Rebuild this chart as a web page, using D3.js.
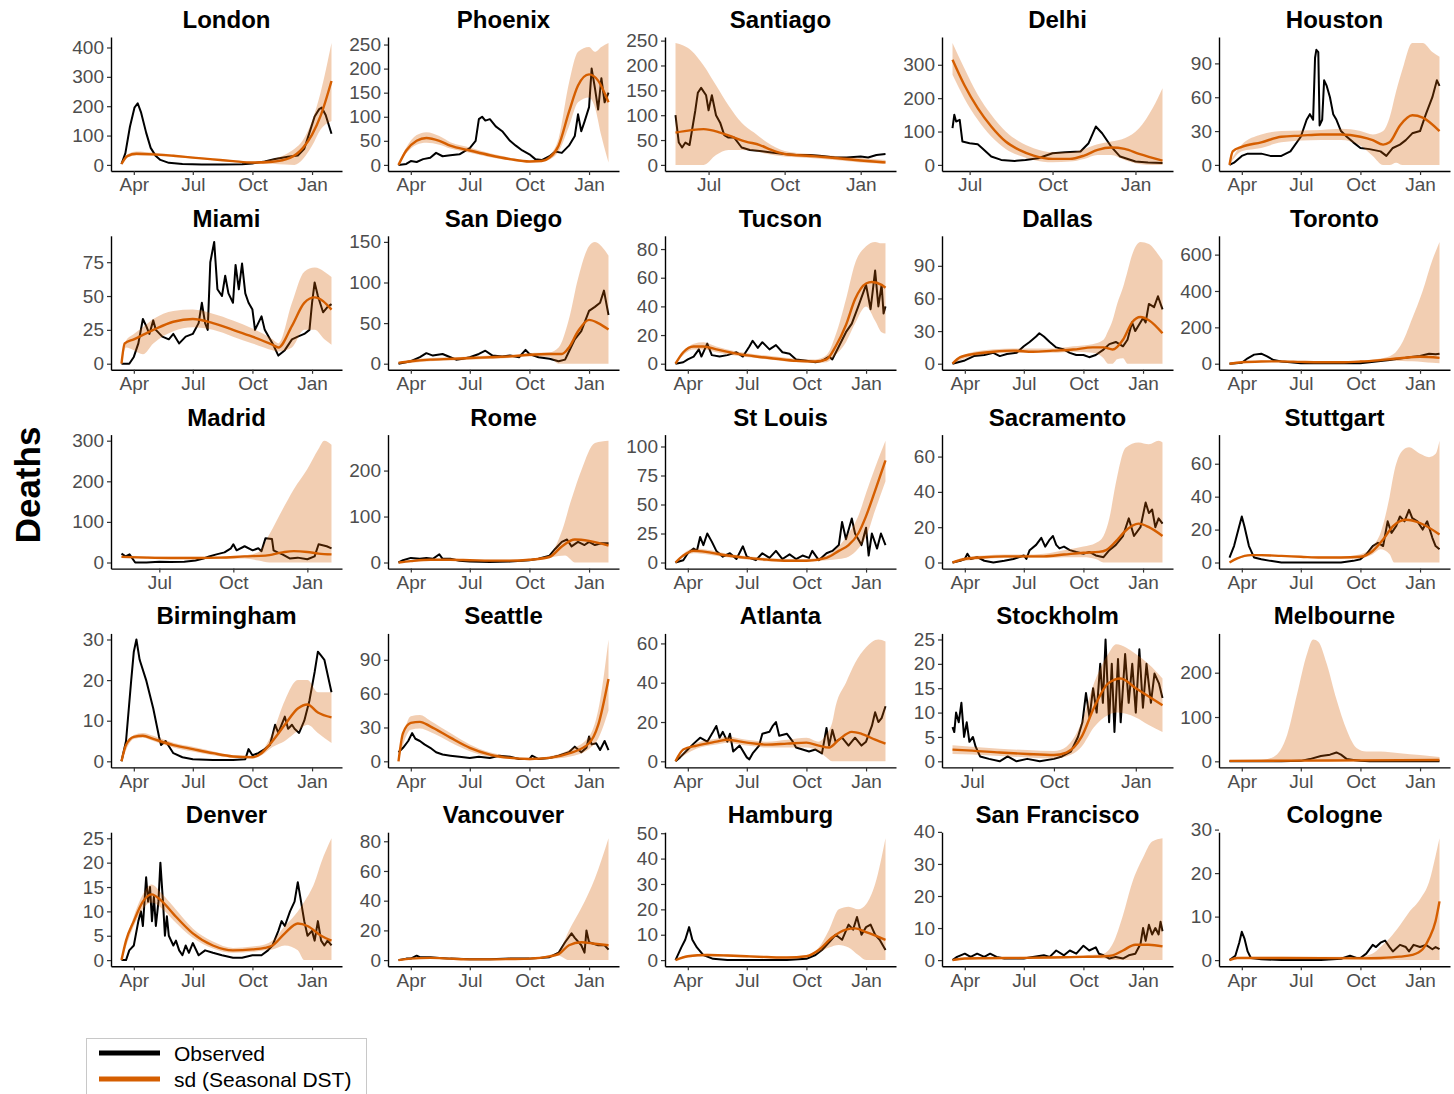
<!DOCTYPE html>
<html>
<head>
<meta charset="utf-8">
<script src="https://cdn.jsdelivr.net/npm/d3@7"></script>
<style>
  body { margin: 0; background: #fff; }
  text { font-family: "Liberation Sans", Arial, sans-serif; }
</style>
</head>
<body>
<svg id="chart" width="1454" height="1094"></svg>
<script>
// daily deaths, observed vs seasonal DST fit
// dates are "MM-DD": Jan/Feb belong to 2021, the rest to 2020

const cities = ["London", "Phoenix", "Santiago", "Delhi", "Houston",
  "Miami", "San Diego", "Tucson", "Dallas", "Toronto",
  "Madrid", "Rome", "St Louis", "Sacramento", "Stuttgart",
  "Birmingham", "Seattle", "Atlanta", "Stockholm", "Melbourne",
  "Denver", "Vancouver", "Hamburg", "San Francisco", "Cologne"];

const starts = ["03-13", "03-13", "05-22", "06-12", "03-13",
  "03-13", "03-13", "03-13", "03-13", "03-13",
  "05-15", "03-13", "03-13", "03-13", "03-13",
  "03-13", "03-13", "03-13", "06-09", "03-13",
  "03-13", "03-13", "03-13", "03-13", "03-13"];

const yTicks = [
  [0, 100, 200, 300, 400], [0, 50, 100, 150, 200, 250], [0, 50, 100, 150, 200, 250], [0, 100, 200, 300], [0, 30, 60, 90],
  [0, 25, 50, 75], [0, 50, 100, 150], [0, 20, 40, 60, 80], [0, 30, 60, 90], [0, 200, 400, 600],
  [0, 100, 200, 300], [0, 100, 200], [0, 25, 50, 75, 100], [0, 20, 40, 60], [0, 20, 40, 60],
  [0, 10, 20, 30], [0, 30, 60, 90], [0, 20, 40, 60], [0, 5, 10, 15, 20, 25], [0, 100, 200],
  [0, 5, 10, 15, 20, 25], [0, 20, 40, 60, 80], [0, 10, 20, 30, 40, 50], [0, 10, 20, 30, 40], [0, 10, 20, 30]
];

// ---- row 1 ----
const londonObs = [["03-13",3],["03-19",40],["03-26",130],["04-02",195],["04-07",210],["04-12",180],["04-20",110],["04-27",58],["05-05",30],["05-12",17],["05-25",7],["06-15",3],["07-15",1],["08-15",1],["09-15",2],["10-01",5],["10-20",12],["11-05",20],["11-25",28],["12-10",32],["12-20",55],["12-28",110],["01-05",165],["01-12",190],["01-16",195],["01-22",170],["01-31",106]];
const londonFit = [["03-13",3],["03-22",30],["04-05",38],["05-01",36],["06-01",31],["07-01",25],["08-01",19],["09-01",13],["10-01",8],["11-01",11],["11-28",24],["12-18",58],["01-01",103],["01-14",166],["01-31",286]];
const londonBand = [["03-13",0,6],["03-22",25,36],["04-05",32,46],["05-01",31,42],["06-01",27,35],["07-01",22,28],["08-01",16,22],["09-01",10,16],["10-01",5,11],["11-01",4,20],["11-20",1,35],["12-05",0,55],["12-18",20,85],["01-01",65,150],["01-14",120,245],["01-31",150,415]];

const phoenixObs = [["03-13",0],["03-25",2],["04-01",8],["04-10",6],["04-20",12],["05-01",15],["05-10",25],["05-20",18],["06-01",20],["06-15",22],["07-01",35],["07-10",50],["07-15",95],["07-20",100],["07-25",92],["08-01",95],["08-10",80],["08-20",70],["09-01",50],["09-10",40],["09-20",30],["10-01",22],["10-10",12],["10-20",10],["11-01",18],["11-10",28],["11-20",25],["12-01",40],["12-10",60],["12-15",105],["12-20",70],["12-25",90],["01-01",120],["01-05",200],["01-10",160],["01-15",115],["01-20",180],["01-25",130],["01-31",150]];
const phoenixFit = [["03-13",0],["03-25",30],["04-10",50],["04-25",56],["05-15",50],["06-01",40],["07-01",30],["08-01",20],["09-01",12],["10-01",7],["10-20",8],["11-01",15],["11-15",40],["12-01",110],["12-15",165],["01-01",188],["01-15",175],["01-31",130]];
const phoenixBand = [["03-13",0,2],["03-25",24,36],["04-10",42,62],["04-25",46,68],["05-15",42,60],["06-01",34,47],["07-01",25,36],["08-01",16,24],["09-01",9,15],["10-01",5,9],["10-20",6,11],["11-01",11,20],["11-15",28,55],["12-01",80,170],["12-15",130,235],["01-01",140,245],["01-10",120,235],["01-20",60,245],["01-31",5,253]];

const santiagoObs = [["05-22",100],["05-26",45],["05-30",35],["06-03",45],["06-08",40],["06-15",110],["06-18",145],["06-22",155],["06-28",140],["07-01",110],["07-05",140],["07-10",100],["07-15",85],["07-20",60],["07-25",55],["08-01",55],["08-10",35],["08-20",30],["09-01",28],["09-15",25],["10-01",22],["10-15",20],["11-01",20],["11-15",18],["12-01",15],["12-15",15],["01-01",17],["01-10",15],["01-20",20],["01-31",22]];
const santiagoFit = [["05-22",65],["06-10",70],["06-25",72],["07-15",65],["08-01",55],["08-15",47],["09-01",40],["09-15",30],["10-01",22],["11-01",18],["12-01",14],["01-01",9],["01-31",5]];
const santiagoBand = [["05-22",0,245],["06-10",0,230],["06-25",0,200],["07-10",20,160],["07-25",30,120],["08-10",30,85],["08-25",28,65],["09-10",22,45],["10-01",17,28],["11-01",14,22],["12-01",10,18],["01-01",5,14],["01-31",2,10]];

const delhiObs = [["06-12",110],["06-14",150],["06-16",130],["06-20",135],["06-23",70],["07-01",65],["07-10",62],["07-15",50],["07-25",25],["08-05",15],["08-20",12],["09-01",15],["09-15",20],["10-01",35],["10-15",38],["11-01",40],["11-10",65],["11-18",115],["11-25",95],["12-05",55],["12-15",25],["01-01",10],["01-15",7],["01-31",6]];
const delhiFit = [["06-12",315],["06-25",240],["07-10",170],["07-25",115],["08-10",70],["08-25",45],["09-10",28],["10-01",18],["10-20",18],["11-05",28],["11-20",45],["12-05",52],["12-20",48],["01-05",33],["01-31",13]];
const delhiBand = [["06-12",270,365],["06-25",200,290],["07-10",135,210],["07-25",85,150],["08-10",48,100],["08-25",28,70],["09-10",15,50],["10-01",8,38],["10-20",10,38],["11-05",18,48],["11-20",30,62],["12-05",30,70],["12-20",15,80],["01-05",3,110],["01-20",0,170],["01-31",0,230]];

const houstonObs = [["03-13",0],["03-20",2],["04-01",8],["04-10",10],["05-01",10],["05-15",8],["06-01",8],["06-15",12],["07-01",25],["07-10",40],["07-15",45],["07-20",40],["07-23",95],["07-25",102],["07-28",100],["07-30",35],["08-03",40],["08-06",75],["08-10",70],["08-15",60],["08-20",45],["08-25",40],["09-01",30],["09-10",25],["09-20",20],["10-01",15],["10-15",14],["11-01",12],["11-10",8],["11-20",15],["12-01",18],["12-10",22],["12-20",28],["01-01",30],["01-10",45],["01-20",60],["01-27",75],["01-31",70]];
const houstonFit = [["03-13",0],["03-18",12],["04-01",16],["05-01",20],["06-01",25],["07-01",26],["08-01",27],["09-01",27],["10-01",25],["10-20",22],["11-05",18],["11-15",20],["12-01",35],["12-20",44],["01-05",42],["01-31",30]];
const houstonBand = [["03-13",0,2],["04-01",12,18],["05-01",15,27],["06-01",20,30],["08-01",22,31],["09-01",22,32],["10-01",17,30],["10-20",8,27],["11-05",0,30],["11-15",0,42],["11-25",2,65],["12-05",0,85],["12-20",0,108],["01-05",0,108],["01-20",0,100],["01-31",0,96]];

// ---- row 2 ----
const miamiObs = [["03-13",0],["03-25",0],["04-01",5],["04-08",15],["04-15",33],["04-20",28],["04-25",22],["05-01",32],["05-05",25],["05-15",20],["05-25",18],["06-01",22],["06-10",15],["06-20",20],["07-01",22],["07-10",30],["07-15",45],["07-20",30],["07-24",25],["07-28",75],["08-03",90],["08-08",55],["08-15",50],["08-20",65],["08-25",52],["09-01",45],["09-05",73],["09-10",55],["09-15",74],["09-20",52],["09-25",45],["10-01",40],["10-05",25],["10-10",30],["10-15",35],["10-20",25],["11-01",15],["11-10",6],["11-20",10],["12-01",18],["12-10",20],["12-20",22],["12-28",25],["01-01",45],["01-05",60],["01-10",50],["01-18",38],["01-25",42],["01-31",44]];
const miamiFit = [["03-13",0],["03-18",15],["04-01",18],["05-01",25],["06-01",31],["07-01",33],["08-01",30],["09-01",25],["10-01",20],["11-01",14],["11-10",12],["12-01",28],["12-20",45],["01-05",49],["01-31",40]];
const miamiBand = [["03-13",0,0],["03-20",12,17],["04-01",10,22],["04-15",7,27],["05-01",15,33],["06-01",24,39],["07-01",27,40],["08-01",25,37],["09-01",20,32],["10-01",15,26],["11-01",10,18],["11-10",9,15],["12-01",12,45],["12-20",25,68],["01-05",25,71],["01-20",18,68],["01-31",14,64]];

const sanDiegoObs = [["03-13",0],["04-01",3],["04-15",8],["04-25",13],["05-05",10],["05-20",12],["06-01",8],["06-10",5],["06-20",6],["07-01",8],["07-15",12],["07-25",16],["08-05",10],["08-20",9],["09-01",10],["09-15",8],["09-25",17],["10-01",12],["10-15",8],["11-01",6],["11-15",3],["11-25",5],["12-01",15],["12-10",30],["12-20",40],["01-01",65],["01-10",70],["01-18",75],["01-24",90],["01-31",60]];
const sanDiegoFit = [["03-13",1],["04-01",3],["05-01",5],["06-01",6],["07-01",7],["08-01",8],["09-01",9],["10-01",11],["11-01",12],["11-20",12],["12-01",20],["12-15",40],["01-01",54],["01-15",50],["01-31",42]];
const sanDiegoBand = [["03-13",0,2],["04-01",1,5],["05-01",3,7],["06-01",4,8],["07-01",5,9],["08-01",6,10],["09-01",7,11],["10-01",9,13],["11-01",8,14],["11-15",0,20],["12-01",0,55],["12-15",0,105],["01-01",0,145],["01-10",0,150],["01-25",0,140],["01-31",0,133]];

const tucsonObs = [["03-13",0],["03-25",1],["04-01",3],["04-10",5],["04-18",10],["04-22",5],["05-01",14],["05-08",6],["05-20",5],["06-01",6],["06-15",8],["06-25",5],["07-05",12],["07-10",16],["07-18",11],["07-25",15],["08-05",10],["08-15",13],["08-25",8],["09-05",7],["09-15",3],["10-01",2],["10-15",1],["10-25",2],["11-05",5],["11-10",3],["11-20",12],["12-01",22],["12-10",28],["12-20",40],["01-01",55],["01-08",38],["01-15",65],["01-20",40],["01-25",55],["01-28",35],["01-31",40]];
const tucsonFit = [["03-13",0],["03-25",8],["04-10",12],["04-25",12],["05-15",10],["06-15",7],["07-15",5],["08-15",3.5],["09-15",2],["10-15",1.5],["11-01",3],["11-15",12],["12-01",27],["12-15",45],["01-01",56],["01-10",57],["01-25",55],["01-31",53]];
const tucsonBand = [["03-13",0,0],["04-10",10,14],["04-25",10,15],["05-15",8,12],["06-15",5.5,8.5],["07-15",4,6.5],["08-15",2.5,5],["09-15",1,3.5],["10-15",0.5,3],["11-01",1,6],["11-15",6,20],["12-01",15,45],["12-15",28,70],["01-01",40,82],["01-15",30,85],["01-25",22,84],["01-31",21,84]];

const dallasObs = [["03-13",0],["04-01",3],["04-15",7],["05-01",8],["05-15",10],["05-25",7],["06-05",9],["06-20",10],["07-01",16],["07-10",20],["07-20",25],["07-25",28],["08-01",25],["08-10",20],["08-20",15],["09-01",13],["09-10",10],["09-20",8],["10-01",8],["10-10",6],["10-20",8],["11-01",13],["11-10",18],["11-20",20],["12-01",16],["12-08",22],["12-15",38],["12-20",30],["01-01",42],["01-05",38],["01-10",55],["01-18",52],["01-24",62],["01-31",50]];
const dallasFit = [["03-13",0],["03-25",6],["04-15",9],["05-15",11],["06-15",12],["07-15",11],["08-15",12],["09-15",13],["10-15",15],["11-01",15],["11-15",13],["12-01",22],["12-15",38],["12-28",43],["01-10",40],["01-31",28]];
const dallasBand = [["03-13",0,0],["04-15",7,11],["06-15",10,14],["08-15",10,14],["09-15",11,16],["10-15",10,18],["11-01",5,22],["11-08",0,30],["11-15",0,40],["11-22",4,55],["12-01",5,70],["12-08",0,85],["12-15",0,100],["12-28",0,112],["01-10",0,110],["01-25",0,100],["01-31",0,95]];

const torontoObs = [["03-13",0],["04-01",5],["04-10",30],["04-20",50],["05-01",55],["05-10",40],["05-20",20],["06-01",12],["06-15",8],["07-01",3],["08-01",2],["09-01",2],["10-01",3],["10-15",8],["11-01",15],["11-15",20],["12-01",28],["12-15",35],["01-01",42],["01-15",55],["01-25",52],["01-31",55]];
const torontoFit = [["03-13",0],["04-01",8],["05-01",12],["06-01",13],["07-01",10],["08-01",8],["09-01",8],["10-01",12],["11-01",20],["12-01",30],["01-01",38],["01-31",32]];
const torontoBand = [["03-13",0,0],["04-01",5,12],["05-01",9,16],["07-01",7,13],["09-01",6,11],["10-01",9,17],["11-01",13,28],["11-20",15,50],["12-05",15,120],["12-20",13,250],["01-05",10,400],["01-20",5,570],["01-31",3,670]];

// ---- row 3 ----
const madridObs = [["05-15",22],["05-20",15],["05-25",20],["06-01",0],["06-15",0],["07-01",2],["07-15",1],["08-01",2],["08-15",5],["08-25",10],["09-01",15],["09-10",20],["09-20",25],["09-28",35],["10-01",45],["10-05",30],["10-15",40],["10-25",30],["11-01",35],["11-05",28],["11-10",60],["11-18",58],["11-20",30],["11-25",25],["12-01",20],["12-10",10],["12-20",12],["01-01",8],["01-10",15],["01-15",45],["01-25",40],["01-31",35]];
const madridFit = [["05-15",14],["06-15",12],["07-15",11],["08-15",11],["09-15",12],["10-15",15],["11-10",17],["12-01",25],["12-15",28],["01-01",26],["01-15",22],["01-31",20]];
const madridBand = [["05-15",11,17],["07-15",9,14],["08-15",8,14],["09-15",9,15],["10-15",10,18],["11-01",5,25],["11-15",0,70],["12-01",0,130],["12-15",0,180],["01-01",0,230],["01-15",0,280],["01-22",0,300],["01-31",0,290]];

const romeObs = [["03-13",0],["03-20",5],["04-01",10],["04-15",8],["04-25",10],["05-05",8],["05-15",18],["05-20",8],["06-01",8],["06-15",4],["07-01",2],["08-01",1],["09-01",2],["10-01",5],["10-15",8],["11-01",15],["11-10",30],["11-20",45],["11-28",50],["12-05",35],["12-15",45],["12-25",38],["01-01",45],["01-10",38],["01-20",42],["01-31",42]];
const romeFit = [["03-13",0],["04-01",3],["05-01",6],["06-01",6],["07-01",5],["08-01",4],["09-01",4],["10-01",6],["11-01",12],["11-20",35],["12-10",50],["01-01",47],["01-31",37]];
const romeBand = [["03-13",0,1],["04-01",1.5,5],["05-01",4.5,8],["06-01",4.5,8],["07-01",3.5,7],["08-01",2.5,6],["09-01",2.5,6],["10-01",4.5,8],["11-01",10,16],["11-15",14,50],["11-25",15,90],["12-01",10,120],["12-10",0,160],["12-20",0,200],["01-10",0,260],["01-31",0,265]];

const stLouisObs = [["03-13",0],["03-25",2],["04-01",8],["04-10",12],["04-15",10],["04-20",22],["04-25",15],["05-01",25],["05-08",18],["05-15",10],["05-25",5],["06-05",8],["06-15",3],["06-25",14],["07-01",5],["07-15",2],["07-25",8],["08-05",4],["08-15",10],["08-25",3],["09-05",7],["09-15",3],["09-25",6],["10-05",4],["10-10",10],["10-20",2],["11-01",8],["11-10",10],["11-20",15],["11-25",35],["12-01",20],["12-10",38],["12-15",25],["12-25",15],["01-01",30],["01-05",6],["01-10",25],["01-18",12],["01-24",25],["01-31",15]];
const stLouisFit = [["03-13",0],["03-25",6],["04-10",10],["05-01",9],["06-01",6],["07-01",4],["08-01",2.5],["09-01",1.5],["10-01",1.5],["11-01",4],["11-20",10],["12-05",15],["12-20",25],["01-01",40],["01-15",62],["01-31",88]];
const stLouisBand = [["03-13",0,0],["04-10",8,12],["05-01",7,11],["06-01",4.5,7.5],["07-01",2.5,5.5],["08-01",1,4],["09-01",0.5,3],["10-01",0.5,3],["11-01",2,6],["11-20",3,14],["12-05",5,25],["12-20",12,40],["01-01",22,60],["01-15",45,82],["01-31",70,105]];

const sacramentoObs = [["03-13",0],["03-25",1],["04-01",2],["04-05",5],["04-10",2],["04-20",3],["05-01",1],["05-15",0],["06-01",1],["06-15",2],["07-01",4],["07-05",2],["07-10",7],["07-20",10],["07-28",14],["08-03",9],["08-10",13],["08-15",15],["08-20",10],["08-25",8],["09-01",9],["09-10",7],["09-20",6],["10-01",5],["10-10",6],["10-20",4],["11-01",3],["11-10",7],["11-20",10],["12-01",15],["12-10",25],["12-18",15],["12-28",20],["01-05",34],["01-10",28],["01-15",30],["01-20",20],["01-25",25],["01-31",22]];
const sacramentoFit = [["03-13",0],["04-01",2],["05-01",3],["06-01",3.5],["07-01",3.5],["08-01",3.5],["09-01",4.5],["10-01",5.5],["10-25",6],["11-05",7],["11-20",12],["12-05",18],["12-25",22],["01-10",20],["01-31",15]];
const sacramentoBand = [["03-13",0,0.5],["04-01",1,3],["05-01",2,4],["06-01",2.5,4.5],["07-01",2.5,4.5],["08-01",2.5,5],["09-01",3,7],["10-01",3,9],["10-20",2,11],["11-01",0,15],["11-10",0,25],["11-20",0,45],["12-05",0,65],["12-25",0,68],["01-10",0,67],["01-25",0,69],["01-31",0,68]];

const stuttgartObs = [["03-13",3],["03-20",10],["03-28",22],["04-01",28],["04-05",22],["04-12",10],["04-20",3],["05-01",2],["05-15",1],["06-01",0],["07-01",0],["08-01",0],["09-01",0],["09-20",1],["10-01",2],["10-10",5],["10-20",10],["10-28",12],["11-05",10],["11-12",25],["11-18",18],["11-25",22],["12-01",28],["12-08",25],["12-15",32],["12-20",27],["12-28",25],["01-05",20],["01-12",25],["01-20",15],["01-25",10],["01-31",8]];
const stuttgartFit = [["03-13",0],["03-25",2.5],["04-15",4.5],["05-01",4.5],["06-01",4],["07-01",3.5],["08-01",3],["09-01",3],["10-01",3.5],["10-20",7],["11-05",14],["11-20",22],["12-10",26],["01-01",24],["01-31",17]];
const stuttgartBand = [["03-13",0,0.5],["04-15",4,5],["07-01",3,4],["09-01",2.5,3.5],["10-01",2.5,5],["10-20",5,10],["11-01",8,18],["11-15",5,40],["11-22",0,55],["12-05",0,68],["12-15",0,70],["01-01",0,66],["01-15",0,64],["01-25",0,66],["01-31",0,74]];

// ---- row 4 ----
const birminghamObs = [["03-13",0],["03-20",5],["03-28",20],["04-01",27],["04-05",30],["04-10",25],["04-20",20],["05-01",13],["05-10",6],["05-13",4],["05-20",5],["06-01",2],["06-15",1],["07-01",0.5],["08-01",0.3],["09-01",0.3],["09-20",0.5],["09-25",3],["10-01",1.5],["10-10",2],["10-20",3],["10-28",4],["11-05",9],["11-10",7],["11-20",11],["11-25",8],["12-01",9],["12-05",8],["12-12",7],["12-20",10],["12-28",15],["01-05",22],["01-10",27],["01-15",26],["01-20",25],["01-31",17]];
const birminghamFit = [["03-13",0],["03-20",4],["04-01",6],["04-15",6.3],["05-01",5.5],["06-01",4],["07-01",3],["08-01",2],["09-01",1.2],["10-01",1],["10-15",2],["11-01",5],["11-20",9],["12-10",13],["12-25",14],["01-10",12],["01-31",10.8]];
const birminghamBand = [["03-13",0,0],["04-01",5.5,6.5],["04-15",5.8,7],["05-01",5,6.3],["06-01",3.4,4.6],["07-01",2.4,3.6],["08-01",1.5,2.5],["09-01",0.9,1.5],["10-01",0.8,1.3],["10-15",1.5,2.5],["11-01",3.5,7],["11-20",5,15],["12-10",7.5,20],["12-25",9,20],["01-10",7,17],["01-31",4.5,17]];

const seattleObs = [["03-13",8],["03-20",12],["03-28",18],["04-03",25],["04-08",20],["04-15",18],["04-22",15],["05-01",12],["05-10",8],["05-20",6],["06-01",5],["06-15",4],["07-01",3],["07-15",4],["08-01",3],["08-15",5],["09-01",4],["09-15",2],["10-01",2],["10-05",5],["10-15",2],["11-01",3],["11-15",5],["12-01",8],["12-10",13],["12-20",8],["12-28",12],["01-01",22],["01-05",15],["01-12",16],["01-18",10],["01-25",18],["01-31",10]];
const seattleFit = [["03-13",0],["03-20",25],["04-01",34],["04-15",35],["05-01",31],["06-01",21],["07-01",12],["08-01",6],["09-01",3],["10-01",2],["11-01",3],["12-01",7],["01-01",16],["01-15",32],["01-31",73]];
const seattleBand = [["03-13",0,0],["04-01",28,40],["04-15",29,41],["05-01",26,36],["06-01",17,25],["07-01",9,15],["08-01",4,8],["09-01",2,4.5],["10-01",1,3],["11-01",2,4.5],["12-01",4,10],["01-01",11,22],["01-15",20,45],["01-31",45,108]];

const atlantaObs = [["03-13",0],["03-20",2],["04-01",6],["04-10",9],["04-20",12],["05-01",10],["05-10",15],["05-15",18],["05-20",12],["05-25",15],["06-01",10],["06-05",14],["06-10",5],["06-20",8],["07-01",2],["07-05",1],["07-10",4],["07-20",8],["07-25",14],["08-05",15],["08-10",18],["08-15",20],["08-20",13],["09-01",14],["09-10",10],["09-15",7],["09-25",6],["10-05",5],["10-15",6],["10-25",4],["11-01",17],["11-05",8],["11-10",16],["11-15",10],["11-25",12],["12-05",8],["12-15",12],["12-25",8],["01-01",10],["01-10",18],["01-15",25],["01-20",20],["01-25",22],["01-31",28]];
const atlantaFit = [["03-13",0],["03-25",6],["04-15",8],["05-15",10],["06-01",11],["07-01",9.5],["08-01",8.5],["09-01",9],["10-01",9.5],["10-20",8],["11-05",7],["11-20",11],["12-10",15],["12-25",14],["01-15",11],["01-31",9]];
const atlantaBand = [["03-13",0,0],["04-15",6.5,9.5],["05-15",8.5,11.5],["06-01",9.5,12.5],["07-01",8,11],["08-01",7,10],["09-01",7,11],["10-01",7,12],["10-20",5,10],["11-01",2,14],["11-10",0,20],["11-15",0,28],["12-01",0,40],["12-15",0,50],["01-01",0,58],["01-20",0,62],["01-31",0,61]];

const stockholmObs = [["06-09",7],["06-11",6],["06-13",10],["06-16",8],["06-19",12],["06-22",5],["06-25",8],["06-28",4],["07-02",5],["07-05",3],["07-10",1],["07-20",0.5],["08-01",0],["08-10",1],["08-20",0],["09-01",0.5],["09-15",0],["10-01",0.5],["10-10",1],["10-20",2],["10-28",5],["11-02",8],["11-06",14],["11-10",9],["11-14",15],["11-18",10],["11-22",20],["11-25",12],["11-28",25],["12-02",8],["12-05",20],["12-08",6],["12-12",21],["12-15",8],["12-20",22],["12-24",12],["12-28",20],["01-01",10],["01-05",23],["01-09",11],["01-13",20],["01-18",12],["01-22",18],["01-27",16],["01-31",13]];
const stockholmFit = [["06-09",2.4],["07-01",2.2],["08-01",1.8],["09-01",1.5],["10-01",1.3],["10-15",1.8],["11-01",5],["11-15",11],["12-01",16],["12-15",17],["01-01",15],["01-31",11.5]];
const stockholmBand = [["06-09",1.5,3.3],["07-01",1.4,3],["08-01",1.1,2.6],["09-01",0.8,2.3],["10-01",0.6,2.1],["10-15",1,3],["11-01",3,8],["11-15",7,16],["12-01",9.5,22],["12-10",10,24],["01-01",9,22],["01-15",7.5,20],["01-31",6,17]];

const melbourneObs = [["03-13",0],["06-01",0],["07-01",1],["07-15",5],["08-01",12],["08-15",15],["08-25",20],["09-01",15],["09-10",5],["09-20",3],["10-01",1],["10-15",0],["01-31",0]];
const melbourneFit = [["03-13",1],["07-01",1.5],["10-01",2],["01-31",3]];
const melbourneBand = [["03-13",0,2],["05-01",0,3],["05-20",0,10],["06-10",0,60],["06-25",0,150],["07-10",0,240],["07-20",0,275],["07-28",0,270],["08-10",0,220],["08-25",0,140],["09-10",0,70],["09-25",0,30],["10-10",0,22],["11-01",0,22],["12-01",0,18],["01-01",0,14],["01-31",0,10]];

// ---- row 5 ----
const denverObs = [["03-13",0],["03-20",0],["03-25",2],["04-01",3],["04-08",8],["04-12",10],["04-15",7],["04-20",17],["04-23",12],["04-26",15],["04-29",8],["05-02",13],["05-05",7],["05-09",12],["05-12",20],["05-16",12],["05-19",5],["05-22",9],["05-25",5],["06-01",3],["06-05",4],["06-10",2],["06-15",1],["06-20",3],["06-25",1.5],["07-01",3.5],["07-10",1],["07-20",2],["08-01",1.5],["08-15",1],["09-01",0.5],["09-15",0.5],["10-01",1],["10-15",1],["10-25",2],["11-01",3],["11-10",6],["11-15",8],["11-20",7],["11-28",10],["12-05",12],["12-10",16],["12-15",12],["12-20",8],["12-25",5],["01-01",6],["01-05",4],["01-10",8],["01-15",4],["01-20",3],["01-25",4],["01-31",3]];
const denverFit = [["03-13",0],["03-20",4],["04-01",8],["04-15",12],["04-28",13.5],["05-15",12],["06-01",9.5],["07-01",5.5],["08-01",3],["09-01",2],["10-01",2.2],["10-20",2.5],["11-01",3],["11-20",5.5],["12-10",7.5],["12-25",7],["01-15",5],["01-31",4]];
const denverBand = [["03-13",0,0],["04-01",7,9],["04-15",10.5,13.5],["04-28",11.8,15.5],["05-15",10.5,13.5],["06-01",8.2,11],["07-01",4.6,6.5],["08-01",2.4,3.8],["09-01",1.5,2.5],["10-01",1.7,2.8],["10-20",2,3.2],["11-01",2.2,4],["11-20",3,7],["12-10",2,10],["12-20",0,12],["01-05",0,16],["01-15",0,20],["01-31",0,25]];

const vancouverObs = [["03-13",0],["03-25",1],["04-01",1],["04-10",3],["04-15",2],["05-01",2],["05-15",1.5],["06-01",1],["07-01",0.5],["08-01",0.5],["09-01",1],["10-01",1],["11-01",2],["11-15",5],["11-25",12],["12-05",18],["12-10",15],["12-20",10],["12-25",5],["12-28",20],["01-01",12],["01-15",10],["01-25",10],["01-31",7]];
const vancouverFit = [["03-13",0],["04-01",1],["05-01",1.5],["06-01",1],["07-01",0.5],["08-01",0.5],["09-01",0.7],["10-01",1],["11-01",2.5],["11-15",4],["12-01",10],["12-20",12],["01-10",11],["01-31",10]];
const vancouverBand = [["03-13",0,0.5],["04-01",0.7,1.5],["05-01",1.2,2],["06-01",0.7,1.5],["07-01",0.2,1],["08-01",0.2,1],["09-01",0.4,1.2],["10-01",0.7,1.5],["11-01",2,3.5],["11-15",3,6],["12-01",0,20],["12-20",0,35],["01-10",0,55],["01-31",0,82]];

const hamburgObs = [["03-13",0],["03-22",5],["03-28",8],["04-03",13],["04-08",8],["04-15",5],["04-25",2],["05-10",0.5],["06-01",0],["07-01",0],["08-01",0],["09-01",0],["10-01",0.5],["10-15",2],["10-25",4],["11-05",7],["11-15",10],["11-25",8],["12-05",14],["12-12",12],["12-18",17],["12-25",10],["01-01",13],["01-08",14],["01-15",10],["01-22",8],["01-31",4]];
const hamburgFit = [["03-13",0],["04-01",1.5],["05-01",2],["06-01",1.8],["07-01",1.5],["08-01",1.2],["09-01",1],["10-01",1.5],["10-20",4],["11-10",9],["12-01",12],["12-15",12.5],["01-01",11],["01-31",8]];
const hamburgBand = [["03-13",0,0],["04-01",1,2],["05-01",1.5,2.5],["06-01",1.3,2.3],["09-01",0.7,1.3],["10-01",1,2],["10-20",3,5],["11-05",5,12],["11-20",6,20],["12-05",5,21],["12-20",2,20],["01-01",0,22],["01-15",0,30],["01-31",0,48]];

const sanFranciscoObs = [["03-13",0],["03-20",1],["04-01",2],["04-10",1],["04-20",2],["05-01",1],["05-10",2],["05-20",1],["06-01",0.5],["06-15",0.5],["07-01",0.5],["07-15",1],["08-01",1.5],["08-10",1],["08-20",3],["09-01",1.5],["09-10",3],["09-20",2],["10-01",4.5],["10-10",3],["10-20",4],["10-25",2],["11-01",1.5],["11-10",0.5],["11-20",1],["12-01",0.5],["12-10",1.5],["12-20",2],["12-28",5],["01-01",10],["01-05",6],["01-10",11],["01-15",8],["01-20",10],["01-25",8],["01-28",12],["01-31",9]];
const sanFranciscoFit = [["03-13",0],["04-01",0.5],["05-01",0.6],["07-01",0.7],["09-01",0.9],["10-01",1],["11-01",1.2],["11-15",1.5],["12-01",3],["12-20",4.8],["01-10",4.8],["01-31",4.3]];
const sanFranciscoBand = [["03-13",0,0.3],["04-01",0.3,0.8],["09-01",0.6,1.2],["10-01",0.7,1.5],["11-01",0.5,2],["11-15",0,5],["12-01",0,14],["12-15",0,24],["01-01",0,32],["01-15",0,37],["01-31",0,38]];

const cologneObs = [["03-13",0],["03-22",1],["03-28",4],["04-01",6.5],["04-05",5],["04-10",2],["04-15",0.5],["05-01",0.2],["06-01",0],["07-01",0],["08-01",0],["09-01",0.3],["09-15",1],["09-25",0.5],["10-01",0.5],["10-10",1.5],["10-20",3.5],["10-25",3],["11-01",4],["11-08",4.5],["11-15",3],["11-20",2],["12-01",3.5],["12-10",3],["12-15",2],["12-22",3.5],["01-01",3],["01-10",3.5],["01-20",2.5],["01-25",3],["01-31",2.5]];
const cologneFit = [["03-13",0],["03-25",0.5],["06-01",0.5],["10-01",0.4],["11-01",0.5],["12-01",0.8],["12-20",1.2],["01-05",2.5],["01-15",5],["01-25",9],["01-31",13.5]];
const cologneBand = [["03-13",0,0.2],["04-01",0.3,0.8],["10-01",0.2,0.8],["10-20",0.1,1.5],["11-01",0,3],["11-15",0,5],["12-01",0,8],["12-15",0,11],["01-01",0,14],["01-15",0,18],["01-25",0,24],["01-31",0,28]];

const obsSeries = [londonObs, phoenixObs, santiagoObs, delhiObs, houstonObs,
  miamiObs, sanDiegoObs, tucsonObs, dallasObs, torontoObs,
  madridObs, romeObs, stLouisObs, sacramentoObs, stuttgartObs,
  birminghamObs, seattleObs, atlantaObs, stockholmObs, melbourneObs,
  denverObs, vancouverObs, hamburgObs, sanFranciscoObs, cologneObs];
const fitSeries = [londonFit, phoenixFit, santiagoFit, delhiFit, houstonFit,
  miamiFit, sanDiegoFit, tucsonFit, dallasFit, torontoFit,
  madridFit, romeFit, stLouisFit, sacramentoFit, stuttgartFit,
  birminghamFit, seattleFit, atlantaFit, stockholmFit, melbourneFit,
  denverFit, vancouverFit, hamburgFit, sanFranciscoFit, cologneFit];
const bandSeries = [londonBand, phoenixBand, santiagoBand, delhiBand, houstonBand,
  miamiBand, sanDiegoBand, tucsonBand, dallasBand, torontoBand,
  madridBand, romeBand, stLouisBand, sacramentoBand, stuttgartBand,
  birminghamBand, seattleBand, atlantaBand, stockholmBand, melbourneBand,
  denverBand, vancouverBand, hamburgBand, sanFranciscoBand, cologneBand];

const legendLabels = ["Observed", "sd (Seasonal DST)"];

// layout
const svg = d3.select("#chart");
const colX = [111, 388, 665, 942, 1219];
const panelW = 231;
const panelTop = 37;
const panelH = 134;
const rowStep = 198.8;
const orange = "#D55E00";
const endDay = new Date(2021, 0, 31);

const parseDay = (s) => {
  const [m, d] = s.split("-").map(Number);
  return new Date(m < 3 ? 2021 : 2020, m - 1, d);
};

cities.forEach((city, i) => {
  const col = i % 5;
  const row = Math.floor(i / 5);
  const left = colX[col];
  const top = panelTop + row * rowStep;
  const bottom = top + panelH;

  const obs = obsSeries[i].map(([d, v]) => ({ date: parseDay(d), v: v }));
  const fit = fitSeries[i].map(([d, v]) => ({ date: parseDay(d), v: v }));
  const band = bandSeries[i].map(([d, lo, hi]) => ({ date: parseDay(d), lo: lo, hi: hi }));

  // ggplot-like 5% expansion on both axes
  const start = parseDay(starts[i]);
  const span = endDay - start;
  const x = d3.scaleTime()
    .domain([new Date(+start - 0.05 * span), new Date(+endDay + 0.05 * span)])
    .range([left, left + panelW]);

  const maxV = d3.max([
    d3.max(obs, (d) => d.v),
    d3.max(fit, (d) => d.v),
    d3.max(band, (d) => d.hi),
  ]);
  const y = d3.scaleLinear()
    .domain([-0.05 * maxV, 1.05 * maxV])
    .range([bottom, top]);

  const g = svg.append("g").attr("class", "panel");

  // observed first, ribbon drawn over it (semi transparent), fit on top
  g.append("path")
    .datum(obs)
    .attr("fill", "none")
    .attr("stroke", "#000")
    .attr("stroke-width", 2)
    .attr("stroke-linejoin", "round")
    .attr("d", d3.line().x((d) => x(d.date)).y((d) => y(d.v)));

  g.append("path")
    .datum(band)
    .attr("fill", orange)
    .attr("fill-opacity", 0.3)
    .attr("d", d3.area()
      .curve(d3.curveMonotoneX)
      .x((d) => x(d.date))
      .y0((d) => y(d.lo))
      .y1((d) => y(d.hi)));

  g.append("path")
    .datum(fit)
    .attr("fill", "none")
    .attr("stroke", orange)
    .attr("stroke-width", 2.4)
    .attr("d", d3.line().curve(d3.curveMonotoneX).x((d) => x(d.date)).y((d) => y(d.v)));

  // axes
  const yAxis = g.append("g")
    .attr("transform", `translate(${left},0)`)
    .call(d3.axisLeft(y).tickValues(yTicks[i]).tickSize(4).tickSizeOuter(0).tickPadding(3));

  const xAxis = g.append("g")
    .attr("transform", `translate(0,${bottom})`)
    .call(d3.axisBottom(x)
      .tickValues(x.ticks(d3.timeMonth.every(3)))
      .tickFormat(d3.timeFormat("%b"))
      .tickSize(4).tickSizeOuter(0).tickPadding(3));

  [yAxis, xAxis].forEach((ax) => {
    ax.select(".domain").attr("stroke", "#000").attr("stroke-width", 1.4);
    ax.selectAll(".tick line").attr("stroke", "#333").attr("stroke-width", 1.2);
    ax.selectAll(".tick text")
      .attr("fill", "#4d4d4d")
      .style("font-size", "19px")
      .style("font-family", '"Liberation Sans", Arial, sans-serif');
  });

  g.append("text")
    .attr("x", left + panelW / 2)
    .attr("y", top - 9)
    .attr("text-anchor", "middle")
    .style("font-size", "24px")
    .style("font-weight", "bold")
    .attr("fill", "#000")
    .text(city);
});

// y axis title
svg.append("text")
  .attr("transform", "translate(40,485) rotate(-90)")
  .attr("text-anchor", "middle")
  .style("font-size", "35px")
  .style("font-weight", "bold")
  .text("Deaths");

// legend
const legend = svg.append("g");
legend.append("rect")
  .attr("x", 86.5)
  .attr("y", 1038.5)
  .attr("width", 280)
  .attr("height", 70)
  .attr("fill", "#fff")
  .attr("stroke", "#c8c8c8");

legendLabels.forEach((label, k) => {
  const ly = 1053 + k * 26;
  legend.append("line")
    .attr("x1", 99).attr("x2", 160)
    .attr("y1", ly).attr("y2", ly)
    .attr("stroke", k === 0 ? "#000" : orange)
    .attr("stroke-width", 5);
  legend.append("text")
    .attr("x", 174)
    .attr("y", ly + 7.5)
    .style("font-size", "21px")
    .attr("fill", "#000")
    .text(label);
});
</script>
</body>
</html>
